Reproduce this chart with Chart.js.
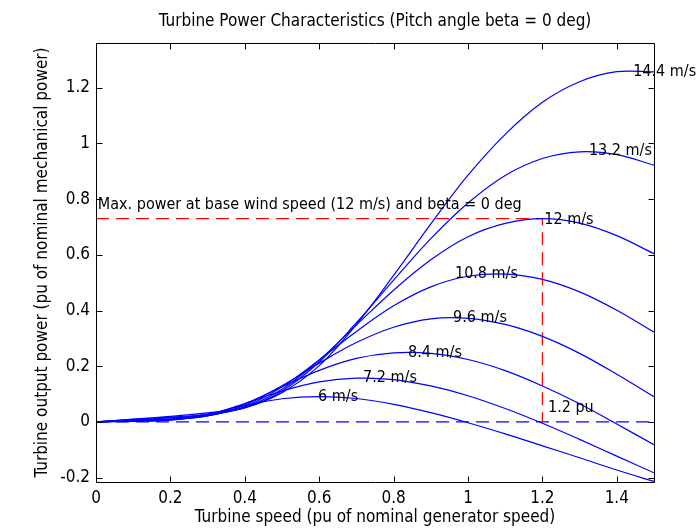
<!DOCTYPE html>
<html>
<head>
<meta charset="utf-8">
<script src="https://cdn.jsdelivr.net/npm/chart.js@4.4.0/dist/chart.umd.min.js"></script>
<style>
  html, body { margin: 0; padding: 0; background: #fff; }
</style>
</head>
<body>
<canvas id="powerChart" width="700" height="528"></canvas>
<script>
// turbine speed (pu) and output power (pu) for each wind speed
const speed = [0, 0.1, 0.2, 0.3, 0.4, 0.5, 0.6, 0.7, 0.8, 0.9, 1.0, 1.1, 1.2, 1.3, 1.4, 1.5];
const p6   = [0, 0.002, 0.007, 0.028, 0.059, 0.083, 0.091, 0.084, 0.063, 0.033, -0.003, -0.043, -0.086, -0.129, -0.173, -0.214];
const p72  = [0, 0.003, 0.006, 0.025, 0.066, 0.111, 0.144, 0.157, 0.152, 0.129, 0.094, 0.048, -0.005, -0.063, -0.123, -0.183];
const p84  = [0, 0.003, 0.008, 0.022, 0.065, 0.126, 0.185, 0.228, 0.248, 0.246, 0.224, 0.184, 0.129, 0.065, -0.008, -0.082];
const p96  = [0, 0.004, 0.009, 0.021, 0.060, 0.130, 0.211, 0.285, 0.340, 0.370, 0.372, 0.350, 0.307, 0.246, 0.171, 0.090];
const p108 = [0, 0.006, 0.011, 0.022, 0.055, 0.125, 0.222, 0.325, 0.417, 0.485, 0.523, 0.531, 0.512, 0.467, 0.401, 0.322];
const p12  = [0, 0.007, 0.014, 0.024, 0.052, 0.117, 0.222, 0.348, 0.473, 0.582, 0.665, 0.713, 0.730, 0.714, 0.669, 0.604];
const p132 = [0, 0.009, 0.017, 0.027, 0.050, 0.111, 0.215, 0.356, 0.509, 0.658, 0.786, 0.885, 0.946, 0.970, 0.960, 0.922];
const p144 = [0, 0.010, 0.020, 0.032, 0.051, 0.105, 0.202, 0.350, 0.526, 0.711, 0.886, 1.033, 1.148, 1.222, 1.258, 1.257];

const windNames = ['6 m/s', '7.2 m/s', '8.4 m/s', '9.6 m/s', '10.8 m/s', '12 m/s', '13.2 m/s', '14.4 m/s'];
const windCurves = [p6, p72, p84, p96, p108, p12, p132, p144];
// where each wind-speed text sits (data units)
const labelX = [0.597, 0.718, 0.839, 0.960, 0.965, 1.205, 1.325, 1.444];
const labelY = [0.089, 0.157, 0.247, 0.373, 0.531, 0.726, 0.974, 1.258];

const baseSpeed = 1.2;   // pu
const maxPower = 0.73;   // pu at 12 m/s

const xTicks = [0, 0.2, 0.4, 0.6, 0.8, 1, 1.2, 1.4];
const yTicks = [-0.2, 0, 0.2, 0.4, 0.6, 0.8, 1, 1.2];

const FONT = '"Liberation Sans Narrow", "DejaVu Sans Condensed", "Liberation Sans", sans-serif';
const fmt = v => String(Number(v.toFixed(1)));

const datasets = windCurves.map((arr, i) => ({
    label: windNames[i],
    data: speed.map((s, j) => ({x: s, y: arr[j]})),
    borderColor: '#0000ff',
    borderWidth: 1.2,
    pointRadius: 0,
    fill: false,
    tension: 0.35
}));
datasets.push({
    label: 'max power',
    data: [{x: 0, y: maxPower}, {x: baseSpeed, y: maxPower}, {x: baseSpeed, y: 0}],
    borderColor: '#ff0000',
    borderWidth: 1.2,
    borderDash: [13, 7],
    pointRadius: 0,
    tension: 0
});
datasets.push({
    label: 'zero',
    data: [{x: 0, y: 0}, {x: speed[speed.length - 1], y: 0}],
    borderColor: '#0000ff',
    borderWidth: 1.2,
    borderDash: [13, 7],
    pointRadius: 0,
    tension: 0
});

// box, inward ticks and all the text
const frame = {
    id: 'frame',
    afterDraw(chart) {
        const {ctx, chartArea: a, scales: {x, y}} = chart;
        ctx.save();
        ctx.strokeStyle = '#000';
        ctx.lineWidth = 1;
        const L = Math.round(a.left) + 0.5, R = Math.round(a.right) + 0.5;
        const T = Math.round(a.top) + 0.5, B = Math.round(a.bottom) + 0.5;
        ctx.beginPath();
        ctx.rect(L, T, R - L, B - T);
        xTicks.forEach(v => {
            const px = Math.round(x.getPixelForValue(v)) + 0.5;
            ctx.moveTo(px, B); ctx.lineTo(px, B - 6);
            ctx.moveTo(px, T); ctx.lineTo(px, T + 6);
        });
        yTicks.forEach(v => {
            const py = Math.round(y.getPixelForValue(v)) + 0.5;
            ctx.moveTo(L, py); ctx.lineTo(L + 6, py);
            ctx.moveTo(R, py); ctx.lineTo(R - 6, py);
        });
        ctx.stroke();

        ctx.fillStyle = '#000';
        ctx.font = '16px ' + FONT;
        ctx.textAlign = 'left';
        ctx.textBaseline = 'middle';
        windNames.forEach((t, i) => {
            ctx.fillText(t, x.getPixelForValue(labelX[i]), y.getPixelForValue(labelY[i]));
        });
        ctx.fillText('1.2 pu', x.getPixelForValue(1.215), y.getPixelForValue(0.049));
        ctx.fillText('Max. power at base wind speed (12 m/s) and beta = 0 deg',
            x.getPixelForValue(0.005), y.getPixelForValue(0.778));

        ctx.font = '17px ' + FONT;
        ctx.textAlign = 'center';
        ctx.fillText('Turbine Power Characteristics (Pitch angle beta = 0 deg)', (a.left + a.right) / 2, 22);
        ctx.fillText('Turbine speed (pu of nominal generator speed)', (a.left + a.right) / 2, 518);
        ctx.translate(43, (a.top + a.bottom) / 2);
        ctx.rotate(-Math.PI / 2);
        ctx.fillText('Turbine output power (pu of nominal mechanical power)', 0, 0);
        ctx.restore();
    }
};

const ctx = document.getElementById('powerChart').getContext('2d');
const powerChart = new Chart(ctx, {
    type: 'line',
    data: { datasets: datasets },
    options: {
        responsive: false,
        animation: false,
        layout: { padding: { top: 43, right: 46, left: 0, bottom: 0 } },
        plugins: {
            legend: { display: false },
            tooltip: { enabled: false }
        },
        scales: {
            x: {
                type: 'linear',
                min: 0,
                max: 1.5,
                afterBuildTicks: s => { s.ticks = xTicks.map(v => ({value: v})); },
                afterFit: s => { s.height = 46; },
                grid: { display: false, drawTicks: false },
                border: { display: false },
                ticks: { color: '#000', padding: 6, autoSkip: false, maxRotation: 0,
                         callback: fmt, font: { size: 17, family: FONT } }
            },
            y: {
                type: 'linear',
                min: -0.216,
                max: 1.361,
                afterBuildTicks: s => { s.ticks = yTicks.map(v => ({value: v})); },
                afterFit: s => { s.width = 96; },
                grid: { display: false, drawTicks: false },
                border: { display: false },
                ticks: { color: '#000', padding: 6, autoSkip: false,
                         callback: fmt, font: { size: 17, family: FONT } }
            }
        }
    },
    plugins: [frame]
});
</script>
</body>
</html>
